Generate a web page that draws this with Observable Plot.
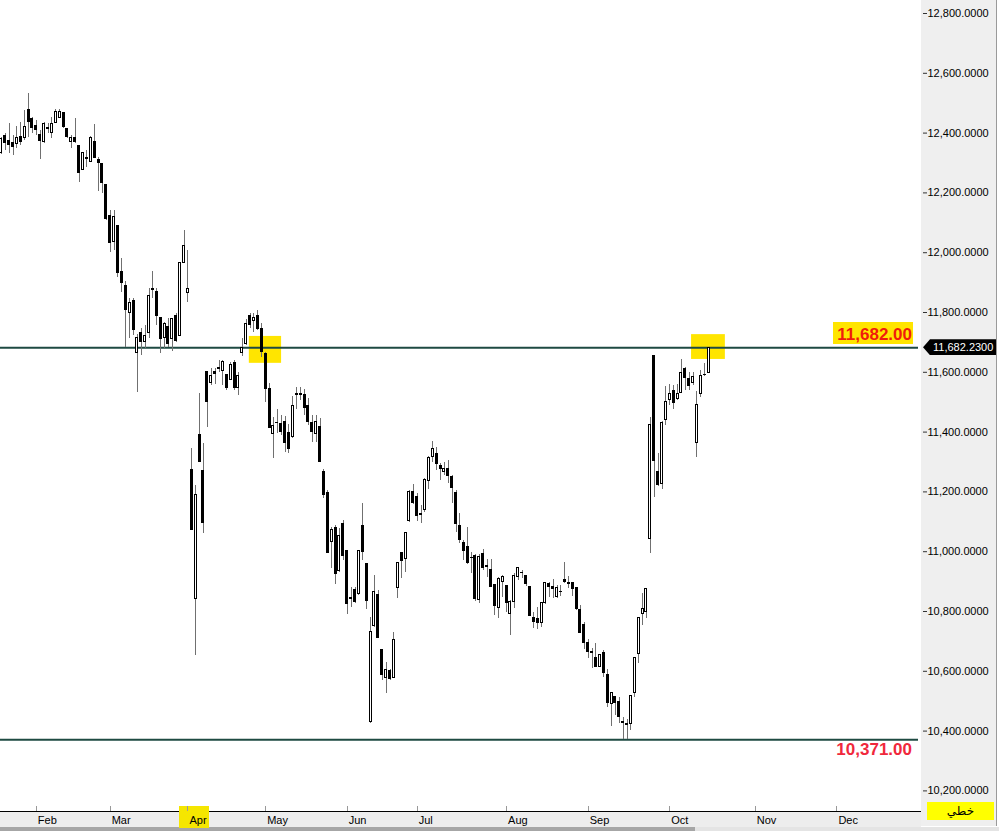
<!DOCTYPE html>
<html><head><meta charset="utf-8">
<script src="https://cdn.jsdelivr.net/npm/d3@7"></script>
<script src="https://cdn.jsdelivr.net/npm/@observablehq/plot@0.6"></script>
<style>
html,body{margin:0;padding:0;background:#fff;}
#wrap{position:relative;width:999px;height:831px;overflow:hidden;font-family:"Liberation Sans",Arial,sans-serif;}
#wrap svg{position:absolute;left:0;top:0;z-index:1;}
.bg{position:absolute;z-index:0;}
.ov{position:absolute;z-index:2;white-space:nowrap;}
</style></head><body><div id="wrap"></div>
<script>
// Daily OHLC (trading-day index 0..182)
const open = [12335,12392,12375,12369,12365,12389,12385,12479,12449,12425,12395,12369,12419,12402,12435,12452,12469,12415,12369,12385,
12359,12278,12318,12305,12372,12312,12298,12228,12124,12037,12091,11937,11890,11797,11840,11666,11733,11700,11733,11880,
11870,11783,11716,11753,11710,11790,11720,11967,11864,11275,10843,11392,11272,11603,11563,11603,11616,11606,11593,11573,
11633,11549,11666,11693,11790,11770,11790,11746,11663,11546,11392,11432,11429,11435,11399,11382,11529,11529,11526,11489,
11432,11395,11419,11268,11198,11031,11081,10937,11094,11004,10847,10874,10857,11088,10961,10429,10750,10857,10673,10576,
10603,10579,10880,10997,10974,11104,11201,11185,11128,11141,11238,11318,11328,11288,11268,11278,11251,11198,11088,11031,
11017,10981,10987,10840,10994,10954,10940,10890,10813,10900,10887,10793,10833,10917,10930,10920,10884,10780,10777,10760,
10827,10894,10884,10850,10867,10907,10897,10897,10880,10807,10757,10696,10666,10646,10613,10663,10589,10492,10516,10499,
10432,10425,10425,10526,10659,10793,10797,11044,11656,11268,11228,11439,11509,11539,11512,11532,11613,11579,11563,11365,
11526,11593,11599];
const high = [12385,12399,12432,12392,12422,12435,12476,12532,12452,12442,12409,12435,12432,12452,12479,12479,12469,12415,12392,12449,
12359,12335,12342,12389,12429,12318,12298,12228,12141,12141,12091,11981,11904,11847,11847,11726,11746,11756,11880,11937,
11880,11783,11767,11780,11780,11797,11967,12074,12007,11345,11221,11529,11362,11603,11613,11613,11639,11639,11593,11633,
11639,11599,11713,11777,11797,11797,11807,11763,11666,11563,11449,11476,11456,11452,11425,11519,11549,11549,11542,11512,
11456,11456,11446,11275,11205,11081,11088,11078,11104,11004,10880,10880,11004,11161,10961,10780,10920,10870,10673,10629,
10606,10730,10961,10997,11064,11205,11225,11195,11154,11245,11318,11369,11348,11295,11298,11305,11255,11205,11128,11037,
11081,10997,10991,10991,11007,10974,10974,10890,10914,10920,10887,10837,10927,10944,10937,10920,10884,10797,10813,10830,
10897,10897,10907,10887,10887,10964,10917,10897,10880,10820,10763,10706,10676,10693,10653,10670,10606,10526,10516,10512,
10445,10439,10516,10646,10777,10860,10877,11449,11656,11328,11435,11553,11559,11556,11559,11643,11616,11599,11599,11536,
11606,11629,11683];
const low = [12328,12342,12332,12325,12349,12359,12375,12385,12399,12392,12312,12365,12399,12382,12432,12449,12415,12382,12349,12365,
12235,12275,12285,12302,12315,12205,12198,12108,12001,12007,11917,11867,11683,11713,11723,11532,11656,11680,11713,11847,
11756,11663,11680,11683,11670,11700,11720,11967,11833,11071,10653,11298,11061,11415,11556,11559,11599,11556,11539,11573,
11539,11522,11653,11690,11746,11733,11740,11650,11499,11412,11312,11395,11389,11332,11328,11379,11476,11506,11456,11422,
11365,11365,11298,11178,10994,10944,10890,10930,10971,10790,10813,10827,10854,10971,10807,10425,10746,10710,10569,10526,
10569,10579,10843,10910,10930,11098,11158,11101,11094,11131,11208,11298,11272,11238,11255,11228,11161,11064,11027,10971,
10957,10927,10833,10827,10937,10914,10880,10787,10777,10847,10797,10720,10810,10904,10910,10884,10783,10743,10740,10746,
10823,10847,10843,10843,10850,10894,10877,10850,10803,10726,10673,10643,10609,10613,10613,10579,10479,10415,10452,10425,
10371,10371,10402,10512,10626,10753,10777,10994,11181,11218,11208,11422,11489,11476,11506,11529,11539,11539,11556,11315,
11516,11586,11596];
const close = [12379,12365,12359,12352,12385,12369,12419,12435,12415,12409,12372,12432,12412,12432,12469,12469,12419,12385,12385,12369,
12265,12332,12312,12385,12315,12298,12231,12111,12031,12121,11930,11897,11807,11833,11740,11716,11700,11723,11854,11874,
11787,11710,11760,11693,11777,11703,11967,12024,11880,11071,11191,11298,11094,11499,11589,11593,11609,11633,11546,11626,
11546,11586,11680,11763,11756,11783,11743,11666,11542,11412,11422,11429,11399,11362,11342,11486,11522,11522,11479,11432,
11399,11435,11298,11188,10994,11074,10924,11051,10984,10823,10840,10830,11001,10997,10833,10730,10864,10710,10586,10606,
10573,10706,10961,10967,11064,11201,11161,11118,11121,11241,11315,11342,11292,11275,11275,11251,11211,11091,11037,11001,
10961,10977,10840,10981,10944,10947,10880,10817,10910,10917,10827,10833,10920,10944,10927,10890,10783,10763,10760,10827,
10894,10880,10874,10877,10864,10897,10890,10874,10807,10726,10693,10663,10659,10613,10653,10593,10492,10526,10492,10445,
10425,10419,10516,10646,10777,10807,10874,11425,11302,11221,11432,11502,11526,11496,11526,11599,11579,11553,11583,11492,
11589,11589,11682];

// Month ticks: trading-day index of the first session of each month
const monthIndex = [9, 28, 48, 68, 89, 107, 130, 151, 172, 194, 215];
const monthLabels = ["Feb","Mar","Apr","May","Jun","Jul","Aug","Sep","Oct","Nov","Dec"];
const yTicks = [10200,10400,10600,10800,11000,11200,11400,11600,11800,12000,12200,12400,12600,12800];

// Horizontal levels and their labels
const levels = [11682, 10371];
const levelLabels = ["11,682.00", "10,371.00"];
const lastPrice = 11682.23;
const lastPriceLabel = "11,682.2300";
const highlightedMonth = "Apr";
const chartTypeLabel = "خطي";

// Highlight boxes (trading-day index span, price span)
const hlI1 = [63.8, 177.6];
const hlI2 = [72.1, 186.3];
const hlP1 = [11630, 11643];
const hlP2 = [11720, 11726];

const candles = open.map((o, i) => ({i, o, h: high[i], l: low[i], c: close[i]}));
const highlights = hlI1.map((v, k) => ({i1: v, i2: hlI2[k], p1: hlP1[k], p2: hlP2[k]}));
const fmt = d3.format(",.4f");

const chart = Plot.plot({
  width: 999, height: 831,
  marginLeft: 0, marginRight: 81, marginTop: 0, marginBottom: 20,
  style: {background: "transparent", fontFamily: "'Liberation Sans', Arial, sans-serif", fontSize: "11px", color: "#000", overflow: "visible"},
  x: {domain: [-0.2316, 236.0], axis: null},
  y: {domain: [10131.1, 12843.5], axis: null},
  marks: [
    Plot.rect(highlights, {x1: "i1", x2: "i2", y1: "p1", y2: "p2", fill: "#ffe500"}),
    Plot.ruleY(levels, {stroke: "#1e4a42", strokeWidth: 2}),
    Plot.ruleX(candles, {x: "i", y1: "l", y2: "h", stroke: "#707070", strokeWidth: 1, shapeRendering: "crispEdges"}),
    Plot.rect(candles.filter(d => d.c < d.o), {x1: d => d.i - 0.386, x2: d => d.i + 0.386, y1: "o", y2: "c", fill: "#000", shapeRendering: "crispEdges"}),
    Plot.rect(candles.filter(d => d.c >= d.o), {x1: d => d.i - 0.257, x2: d => d.i + 0.257, y1: "o", y2: "c", fill: "#fff", stroke: "#000", strokeWidth: 1, shapeRendering: "crispEdges"}),
    Plot.axisY({anchor: "right", ticks: yTicks, tickFormat: d => fmt(d), tickSize: 4, dx: 4, tickPadding: 1, fontSize: 11, stroke: "#333"}),
    Plot.axisX({ticks: monthIndex, text: null, tickSize: 5, dy: -5, stroke: "#999", shapeRendering: "crispEdges"}),
    Plot.axisX({ticks: monthIndex, tickSize: 0, tickPadding: 4.5, textAnchor: "start", dx: 1.5, fontSize: 11,
      tickFormat: d => monthLabels[monthIndex.indexOf(d)]})
  ]
});

const wrap = document.getElementById("wrap");
const xs = chart.scale("x"), ys = chart.scale("y");
function div(cls, css, text) {
  const e = document.createElement("div");
  e.className = cls;
  Object.assign(e.style, css);
  if (text != null) e.textContent = text;
  wrap.appendChild(e);
  return e;
}
const plotRight = xs.range[1];
const plotBottom = ys.range[0];
// background panels
div("bg", {left: (plotRight + 3) + "px", top: "0px", width: "75px", height: (plotBottom + 15) + "px", background: "#efefef", borderRight: "1px solid #9a9a9a"});
div("bg", {left: "0px", top: plotBottom + "px", width: (plotRight + 3) + "px", height: "15px", background: "#ededed", borderTop: "1px solid #000"});
div("bg", {left: "0px", top: (plotBottom + 16) + "px", width: "999px", height: "4px", background: "#e4e4e4"});
div("bg", {left: "0px", top: (plotBottom + 16) + "px", width: "695px", height: "4px", background: "#a6a6a6"});
const aprX = xs.apply(monthIndex[monthLabels.indexOf(highlightedMonth)]);
div("bg", {left: (aprX - 8) + "px", top: (plotBottom - 5) + "px", width: "30px", height: "22px", background: "#f5e600", zIndex: 0});
wrap.appendChild(chart);

// level labels
const yTop = ys.apply(levels[0]);
div("ov", {left: (plotRight - 85) + "px", top: (yTop - 25.3) + "px", width: "79px", height: "22px", background: "#ffe500",
  color: "#f01c0c", fontSize: "17px", fontWeight: "bold", lineHeight: "25.6px", textAlign: "right", paddingRight: "1px"}, levelLabels[0]);
const yBot = ys.apply(levels[1]);
div("ov", {left: (plotRight - 85) + "px", top: (yBot - 0.5) + "px", width: "79px", height: "22px",
  color: "#f0283c", fontSize: "17px", fontWeight: "bold", lineHeight: "22px", textAlign: "right", paddingRight: "1px"}, levelLabels[1]);

// last price tag
const yLast = ys.apply(lastPrice);
div("ov", {left: (plotRight + 5) + "px", top: (yLast - 8) + "px", width: "73px", height: "16px", background: "#000", color: "#fff",
  fontSize: "11px", lineHeight: "16px", paddingLeft: "10px", boxSizing: "border-box",
  clipPath: "polygon(0 50%, 7px 0, 100% 0, 100% 100%, 7px 100%)"}, lastPriceLabel);

// chart type button
div("ov", {left: (plotRight + 9) + "px", top: (plotBottom - 9) + "px", width: "67px", height: "18px", background: "#ffff00",
  color: "#000", fontSize: "12px", lineHeight: "18px", textAlign: "center", fontFamily: "'DejaVu Sans', sans-serif"}, chartTypeLabel);
</script></body></html>
